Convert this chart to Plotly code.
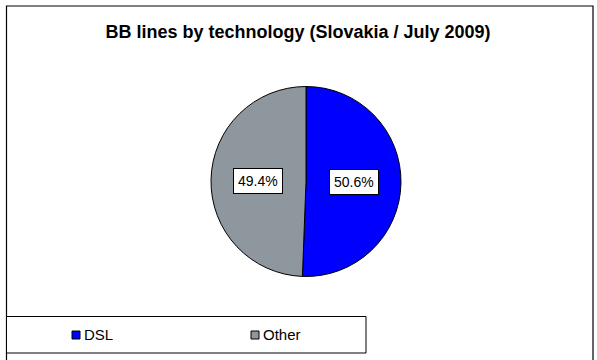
import plotly.graph_objects as go
import math

labels = ["DSL", "Other"]
values = [50.6, 49.4]
colors = ["#0000FF", "#8E969E"]
title_text = "BB lines by technology (Slovakia / July 2009)"

W, H = 597, 360
cx, cy, R = 306, 181.5, 95  # pixel center/radius of pie
FONT = "Liberation Sans, Arial"

fig = go.Figure()
fig.add_trace(go.Pie(
    labels=labels, values=values, sort=False, direction="clockwise", rotation=0,
    marker=dict(colors=colors, line=dict(color="black", width=1)),
    textinfo="none", showlegend=False, hoverinfo="label+percent",
    domain=dict(x=[(cx - R) / W, (cx + R) / W], y=[(H - cy - R) / H, (H - cy + R) / H]),
))

shapes = []
annotations = []
# frame
shapes.append(dict(type="rect", xref="paper", yref="paper",
                   x0=6.5 / W, x1=593 / W, y0=-0.05, y1=1 - 6 / H,
                   line=dict(color="black", width=1.2), fillcolor="rgba(0,0,0,0)"))
# data labels with boxes
total = sum(values)
start = 0.0
for lab, v in zip(labels, values):
    mid = (start + v / 2) / total * 2 * math.pi
    start += v
    px = cx + 0.51 * R * math.sin(mid)
    py = cy - 0.51 * R * math.cos(mid)
    annotations.append(dict(
        x=px / W, y=1 - py / H, xref="paper", yref="paper",
        text=f"{v / total * 100:.1f}%", showarrow=False,
        font=dict(family=FONT, size=14, color="black"),
        bgcolor="white", bordercolor="black", borderwidth=1, borderpad=4,
    ))

# legend box
shapes.append(dict(type="rect", xref="paper", yref="paper",
                   x0=6.5 / W, x1=366 / W, y0=1 - 353 / H, y1=1 - 316.5 / H,
                   line=dict(color="black", width=1), fillcolor="white"))
leg_x = [72, 251]
for lx, lab, col in zip(leg_x, labels, colors):
    shapes.append(dict(type="rect", xref="paper", yref="paper",
                       x0=lx / W, x1=(lx + 8) / W, y0=1 - 339 / H, y1=1 - 331 / H,
                       line=dict(color="black", width=1), fillcolor=col))
    annotations.append(dict(x=(lx + 10) / W, y=1 - 334.5 / H, xref="paper", yref="paper",
                            xanchor="left", yanchor="middle", text=lab, showarrow=False,
                            font=dict(family=FONT, size=15, color="black")))

fig.update_layout(
    width=W, height=H, margin=dict(l=0, r=0, t=0, b=0),
    paper_bgcolor="white", plot_bgcolor="white",
    title=dict(text=f"<b>{title_text}</b>", x=298 / W, xanchor="center", y=1 - 32 / H, yanchor="middle",
               font=dict(family=FONT, size=18, color="black")),
    shapes=shapes, annotations=annotations, showlegend=False,
)
fig.write_html("out.html", config={"displayModeBar": False},
               post_script="document.body.style.margin='0';")
